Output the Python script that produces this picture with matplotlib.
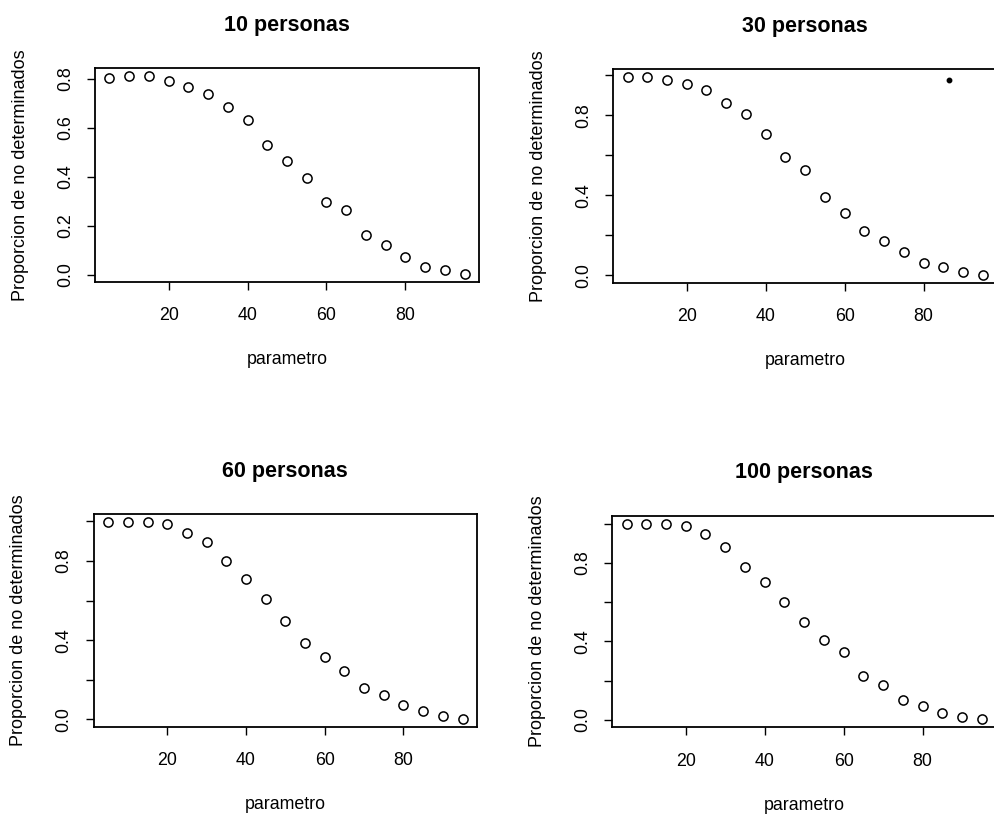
import matplotlib
matplotlib.use("Agg")
import matplotlib.pyplot as plt
from matplotlib.transforms import offset_copy

plt.rcParams["font.family"] = ["Liberation Sans", "DejaVu Sans"]

# ---------------- data ----------------
parametro = [5, 10, 15, 20, 25, 30, 35, 40, 45, 50, 55, 60, 65, 70, 75, 80, 85, 90, 95]

prop_10 = [0.804, 0.810, 0.811, 0.793, 0.767, 0.737, 0.687, 0.631, 0.531, 0.464,
           0.396, 0.297, 0.263, 0.162, 0.122, 0.071, 0.030, 0.018, 0.004]
prop_30 = [0.990, 0.990, 0.978, 0.958, 0.924, 0.862, 0.806, 0.708, 0.590, 0.525,
           0.392, 0.314, 0.223, 0.171, 0.115, 0.060, 0.043, 0.015, 0.003]
prop_60 = [0.998, 0.998, 0.995, 0.987, 0.941, 0.894, 0.801, 0.710, 0.607, 0.497,
           0.386, 0.314, 0.243, 0.159, 0.123, 0.074, 0.044, 0.015, 0.003]
prop_100 = [1.000, 1.000, 0.998, 0.985, 0.949, 0.883, 0.779, 0.701, 0.600, 0.497,
            0.407, 0.346, 0.225, 0.179, 0.100, 0.069, 0.035, 0.017, 0.002]

titles = ["10 personas", "30 personas", "60 personas", "100 personas"]
series = [prop_10, prop_30, prop_60, prop_100]

xticks = [20, 40, 60, 80]
xtick_labels = ["20", "40", "60", "80"]
yticks_10 = [0.0, 0.2, 0.4, 0.6, 0.8]
ytick_labels_10 = ["0.0", "0.2", "0.4", "0.6", "0.8"]
yticks_other = [0.0, 0.2, 0.4, 0.6, 0.8, 1.0]
ytick_labels_other = ["0.0", "", "0.4", "", "0.8", ""]

xlabel = "parametro"
ylabel = "Proporcion de no determinados"

# stray dot visible in the "30 personas" panel
stray_x = [86.5]
stray_y = [0.977]

# ---------------- layout (pixels) ----------------
W, H = 995, 814
# (left, top, right, bottom) of each plot box in pixels
boxes = [
    (95.3, 68.3, 478.7, 281.7),
    (613.3, 69.3, 997.0, 282.7),
    (94.0, 514.0, 476.7, 726.7),
    (612.3, 515.7, 996.0, 727.3),
]

fig = plt.figure(figsize=(W / 100, H / 100), dpi=100)
fig.patch.set_facecolor("white")


def r_lim(vals):
    lo, hi = min(vals), max(vals)
    d = (hi - lo) * 0.04
    return lo - d, hi + d


for i, (vals, title, box) in enumerate(zip(series, titles, boxes)):
    l, t, r, b = box
    ax = fig.add_axes([l / W, 1 - b / H, (r - l) / W, (b - t) / H])
    ax.plot(parametro, vals, linestyle="none", marker="o", markersize=6.6,
            markerfacecolor="none", markeredgecolor="black", markeredgewidth=1.1)
    if i == 1:
        ax.plot(stray_x, stray_y, linestyle="none", marker="o", markersize=3.2,
                color="black")
    ax.set_xlim(*r_lim(parametro))
    ax.set_ylim(*r_lim(vals))
    ax.set_xticks(xticks)
    ax.set_xticklabels(xtick_labels)
    if i == 0:
        ax.set_yticks(yticks_10)
        ax.set_yticklabels(ytick_labels_10, rotation=90, va="center")
    else:
        ax.set_yticks(yticks_other)
        ax.set_yticklabels(ytick_labels_other, rotation=90, va="center")
    ax.tick_params(axis="both", direction="out", length=5.5, width=1.0,
                   labelsize=12.8, colors="black")
    ax.tick_params(axis="x", pad=13)
    ax.tick_params(axis="y", pad=10)
    for s in ax.spines.values():
        s.set_linewidth(1.3)
        s.set_color("black")

    # title, x label and y label, positioned like R's margins
    tr_t = offset_copy(ax.transAxes, fig=fig, x=0, y=43, units="dots")
    ax.text(0.5, 1.0, title, transform=tr_t, ha="center", va="center",
            fontsize=15.5, fontweight="bold")
    tr_x = offset_copy(ax.transAxes, fig=fig, x=0, y=-78, units="dots")
    ax.text(0.5, 0.0, xlabel, transform=tr_x, ha="center", va="center",
            fontsize=12.8)
    tr_y = offset_copy(ax.transAxes, fig=fig, x=-75, y=0, units="dots")
    ax.text(0.0, 0.5, ylabel, transform=tr_y, ha="center", va="center",
            rotation=90, fontsize=13)

fig.savefig("out.png", dpi=100, facecolor="white")
